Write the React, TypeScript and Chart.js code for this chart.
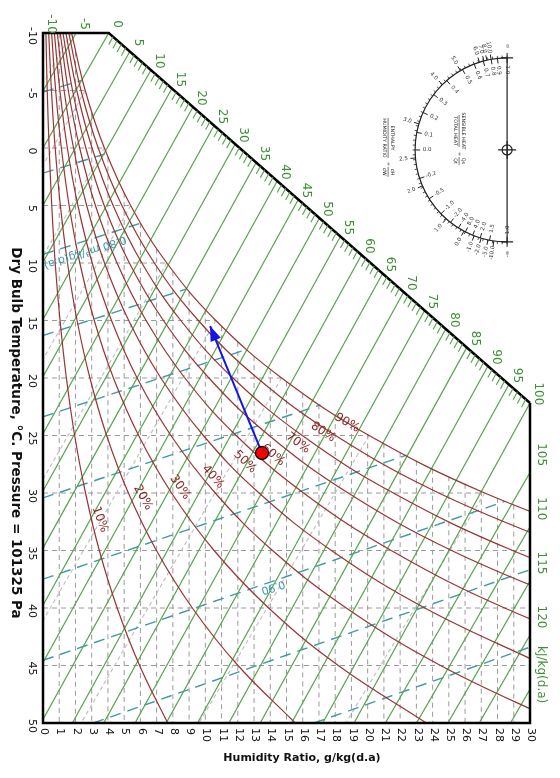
import React, { useEffect, useRef } from 'react';
import { Chart, registerables } from 'chart.js';

Chart.register(...registerables);

// ---------- DATA ----------
// Dry bulb temperatures (°C) at which the relative-humidity curves are tabulated
const TEMPS = [-10, -5, 0, 5, 10, 15, 20, 25, 30, 35, 40, 45, 50];
// Humidity ratio (g/kg) of each RH curve at TEMPS (curves stop once beyond 30 g/kg)
const RH_10 = [0.18, 0.26, 0.38, 0.54, 0.75, 1.05, 1.44, 1.95, 2.62, 3.47, 4.57, 5.95, 7.68];
const RH_20 = [0.35, 0.52, 0.75, 1.07, 1.51, 2.10, 2.89, 3.92, 5.26, 6.99, 9.20, 12.01, 15.54];
const RH_30 = [0.53, 0.78, 1.13, 1.61, 2.27, 3.16, 4.34, 5.89, 7.92, 10.54, 13.90, 18.19, 23.61];
const RH_40 = [0.70, 1.04, 1.50, 2.15, 3.03, 4.22, 5.80, 7.88, 10.61, 14.14, 18.68, 24.49, 31.88];
const RH_50 = [0.88, 1.30, 1.88, 2.69, 3.79, 5.28, 7.26, 9.88, 13.31, 17.77, 23.52, 30.91];
const RH_60 = [1.06, 1.56, 2.26, 3.23, 4.56, 6.35, 8.74, 11.90, 16.05, 21.45, 28.44, 37.47];
const RH_70 = [1.23, 1.82, 2.64, 3.77, 5.32, 7.42, 10.22, 13.93, 18.80, 25.17, 33.44];
const RH_80 = [1.41, 2.08, 3.02, 4.32, 6.09, 8.49, 11.70, 15.97, 21.58, 28.93, 38.51];
const RH_90 = [1.59, 2.34, 3.40, 4.86, 6.86, 9.57, 13.20, 18.02, 24.38, 32.73];
const RH_100 = [1.76, 2.60, 3.78, 5.40, 7.63, 10.65, 14.70, 20.09, 27.21, 36.59];
const RH_CURVES = [RH_10, RH_20, RH_30, RH_40, RH_50, RH_60, RH_70, RH_80, RH_90, RH_100];

const RH_LABELS = ['10%', '20%', '30%', '40%', '50%', '60%', '70%', '80%', '90%'];
const RH_LABEL_W = [3.51, 6.16, 8.44, 10.47, 12.45, 14.17, 15.71, 17.25, 18.73];
const RH_LABEL_T = [32.3, 30.4, 29.5, 28.6, 27.3, 26.7, 25.65, 24.7, 23.9];
const RH_LABEL_ANGLE = [70, 61, 55, 48, 44, 40, 36, 33, 30];

// Enthalpy lines (kJ/kg): start and end points (W g/kg, T °C)
const H_VALUES = [-5, 0, 5, 10, 15, 20, 25, 30, 35, 40, 45, 50, 55, 60, 65, 70, 75, 80, 85, 90, 95, 100, 105, 110, 115, 120, 125];
const H_START_W = [2.04, 4.05, 5.35, 6.65, 7.94, 9.24, 10.54, 11.84, 13.13, 14.43, 15.73, 17.03, 18.32, 19.62, 20.92, 22.22, 23.51, 24.81, 26.11, 27.41, 28.70, 30, 30, 30, 30, 30, 30];
const H_START_T = [-10, -10, -8.39, -6.78, -5.17, -3.57, -1.96, -0.35, 1.26, 2.87, 4.48, 6.09, 7.69, 9.30, 10.91, 12.52, 14.13, 15.74, 17.34, 18.95, 20.56, 22.17, 28.23, 32.94, 37.65, 42.35, 47.06];
const H_END_W = [0, 0, 0, 0, 0, 0, 0, 0, 0, 0, 0, 0, 1.81, 3.74, 5.67, 7.59, 9.52, 11.45, 13.38, 15.31, 17.23, 19.16, 21.09, 23.01, 24.94, 26.87, 28.80];
const H_END_T = [-4.97, 0, 4.97, 9.94, 14.91, 19.88, 24.85, 29.82, 34.79, 39.76, 44.73, 49.70, 50, 50, 50, 50, 50, 50, 50, 50, 50, 50, 50, 50, 50, 50, 50];

// Enthalpy scale (black diagonal) from h = 0 to h = 100
const H_SCALE_FROM = { w: 4.05, t: -10 };
const H_SCALE_TO = { w: 30, t: 22.17 };
const H_SCALE_LABELS = [0, 5, 10, 15, 20, 25, 30, 35, 40, 45, 50, 55, 60, 65, 70, 75, 80, 85, 90, 95, 100];
const H_TOP_LABELS = ['-10', '-5'];
const H_TOP_W = [0, 2.04];
const H_RIGHT_LABELS = ['105', '110', '115', '120'];
const H_RIGHT_T = [28.23, 32.94, 37.65, 42.35];
const H_UNIT = 'kJ/kg(d.a)';

// Specific volume lines (m3/kg)
const V_VALUES = [0.76, 0.78, 0.80, 0.82, 0.84, 0.86, 0.88, 0.90, 0.92, 0.94];
const V_START_W = [0, 0, 0, 0, 0, 0, 0, 0, 3.1, 16.7];
const V_START_T = [-4.87, 2.19, 9.25, 16.31, 23.37, 30.43, 37.49, 44.55, 50, 50];
const V_END_W = [2.43, 3.9, 6.0, 8.85, 12.58, 17.1, 22.4, 28.45, 30, 30];
const V_END_T = [-5.9, 0.48, 6.55, 12.25, 17.5, 22.33, 26.7, 30.73, 36.67, 43.4];
const V_LABELS = ['0.80 m³/kg(d.a)', '0.90'];
const V_LABEL_W = [2.59, 14.17];
const V_LABEL_T = [9.05, 38.17];

// Wet bulb lines (°C)
const WB_VALUES = [-10, -5, 0, 5, 10, 15, 20, 25, 30];
const WB_START_W = [1.76, 2.60, 3.78, 5.40, 7.63, 10.65, 14.70, 20.09, 27.21];
const WB_END_W = [0, 0, 0, 0, 0, 0, 2.35, 9.61, 18.65];
const WB_END_T = [-5.58, 1.5, 9.4, 18.36, 28.8, 41.1, 50, 50, 50];

// Dashed grid under the saturation curve
const GRID_W = [1, 2, 3, 4, 5, 6, 7, 8, 9, 10, 11, 12, 13, 14, 15, 16, 17, 18, 19, 20, 21, 22, 23, 24, 25, 26, 27, 28, 29];
const GRID_W_TOP_T = [-10, -8.37, -3.07, 0.81, 3.91, 6.52, 8.75, 10.71, 12.48, 14.06, 15.5, 16.85, 18.09, 19.23, 20.31, 21.34, 22.31, 23.22, 24.08, 24.9, 25.7, 26.46, 27.19, 27.89, 28.55, 29.2, 29.81, 30.42, 31.01];
const GRID_T = [-5, 0, 5, 10, 15, 20, 25, 30, 35, 40, 45];
const GRID_T_END_W = [2.60, 3.78, 5.40, 7.63, 10.65, 14.70, 20.09, 27.21, 30, 30, 30];

// Axis ticks
const T_TICKS = [-10, -5, 0, 5, 10, 15, 20, 25, 30, 35, 40, 45, 50];
const W_TICKS = [0, 1, 2, 3, 4, 5, 6, 7, 8, 9, 10, 11, 12, 13, 14, 15, 16, 17, 18, 19, 20, 21, 22, 23, 24, 25, 26, 27, 28, 29, 30];

// Process: state point and arrow end
const STATE_POINT = { w: 13.49, t: 26.52 };
const ARROW_END = { w: 10.29, t: 15.48 };

// Protractor
const PROT_CENTER = { w: 28.59, t: 0.17 };
const PROT_OUT_LABELS = ['∞', '10.0', '8.0', '7.0', '6.0', '5.0', '4.0', '3.0', '2.5', '2.0', '1.0', '0.0', '-1.0', '-2.0', '-5.0', '-10.0', '-∞'];
const PROT_OUT_ANGLES = [0, 10, 12.7, 14.6, 17.5, 30.5, 44.7, 73.5, 95, 113, 138.6, 152, 159, 163.6, 168, 171.7, 180];
const PROT_IN_LABELS = ['1.0', '0.9', '0.8', '0.7', '0.6', '0.5', '0.4', '0.3', '0.2', '0.1', '0.0', '-0.2', '-0.5', '-1.0', '-2.0', '-4.0', '8.0', '4.0', '2.0', '1.5', '1.0'];
const PROT_IN_ANGLES = [0, 6, 10, 15, 21, 29, 41, 53, 66, 79, 90, 108, 122, 134, 142, 148, 153, 158, 163, 169, 180];

// ---------- STYLE ----------
const FONT = '"DejaVu Sans", Verdana, sans-serif';
const GREEN = '#55a34c';
const GREEN_TEXT = '#3c8f35';
const RED = '#9a3434';
const RED_TEXT = '#8e2424';
const TEAL = '#3c9aa8';
const GRID = '#9a9a9a';
const WB = '#bdbdbd';

const seg = (w1: number, t1: number, w2: number, t2: number) => [
  { x: w1, y: t1 },
  { x: w2, y: t2 },
];

function rtext(
  ctx: CanvasRenderingContext2D,
  s: string,
  x: number,
  y: number,
  deg: number,
  align: CanvasTextAlign = 'center',
  baseline: CanvasTextBaseline = 'middle'
) {
  ctx.save();
  ctx.translate(x, y);
  ctx.rotate((deg * Math.PI) / 180);
  ctx.textAlign = align;
  ctx.textBaseline = baseline;
  ctx.fillText(s, 0, 0);
  ctx.restore();
}

const overlayPlugin = {
  id: 'psychroOverlay',
  afterDatasetsDraw(chart: any) {
    const ctx: CanvasRenderingContext2D = chart.ctx;
    const xs = chart.scales.x;
    const ys = chart.scales.y;
    const px = (w: number) => xs.getPixelForValue(w);
    const py = (t: number) => ys.getPixelForValue(t);

    ctx.save();

    // ---- borders ----
    ctx.strokeStyle = '#000';
    ctx.lineWidth = 2.5;
    ctx.lineJoin = 'miter';
    ctx.beginPath();
    ctx.moveTo(px(H_SCALE_TO.w), py(H_SCALE_TO.t));
    ctx.lineTo(px(30), py(50));
    ctx.lineTo(px(0), py(50));
    ctx.lineTo(px(0), py(-10));
    ctx.lineTo(px(H_SCALE_FROM.w), py(H_SCALE_FROM.t));
    ctx.lineTo(px(H_SCALE_TO.w), py(H_SCALE_TO.t));
    ctx.stroke();

    // ---- enthalpy scale ticks ----
    const sx1 = px(H_SCALE_FROM.w), sy1 = py(H_SCALE_FROM.t);
    const sx2 = px(H_SCALE_TO.w), sy2 = py(H_SCALE_TO.t);
    const len = Math.hypot(sx2 - sx1, sy2 - sy1);
    const dx = (sx2 - sx1) / len, dy = (sy2 - sy1) / len;
    const perpX = dy, perpY = -dx;
    ctx.strokeStyle = GREEN;
    ctx.lineWidth = 1.1;
    for (let i = 1; i < 100; i++) {
      if (i % 5 === 0) continue;
      const x0 = sx1 + ((sx2 - sx1) * i) / 100;
      const y0 = sy1 + ((sy2 - sy1) * i) / 100;
      ctx.beginPath();
      ctx.moveTo(x0, y0);
      ctx.lineTo(x0 - 0.47 * 9, y0 + 0.88 * 9);
      ctx.stroke();
    }

    // ---- enthalpy labels ----
    ctx.fillStyle = GREEN_TEXT;
    ctx.font = `12px ${FONT}`;
    H_SCALE_LABELS.forEach((h) => {
      const x0 = sx1 + ((sx2 - sx1) * h) / 100 + perpX * 12;
      const y0 = sy1 + ((sy2 - sy1) * h) / 100 + perpY * 12;
      rtext(ctx, String(h), x0, y0, 90);
    });
    H_TOP_LABELS.forEach((s, i) => {
      rtext(ctx, s, px(H_TOP_W[i]) + perpX * 12, py(-10) + perpY * 12, 90);
    });
    H_RIGHT_LABELS.forEach((s, i) => {
      rtext(ctx, s, px(30) + 11, py(H_RIGHT_T[i]) - 18, 90);
    });
    rtext(ctx, H_UNIT, px(30) + 11, 646, 90, 'left');

    // ---- RH labels ----
    ctx.fillStyle = RED_TEXT;
    ctx.font = `12px ${FONT}`;
    RH_LABELS.forEach((s, i) => {
      rtext(ctx, s, px(RH_LABEL_W[i]), py(RH_LABEL_T[i]), RH_LABEL_ANGLE[i]);
    });

    // ---- volume labels ----
    ctx.fillStyle = TEAL;
    ctx.font = `11px ${FONT}`;
    V_LABELS.forEach((s, i) => {
      rtext(ctx, s, px(V_LABEL_W[i]), py(V_LABEL_T[i]), 162);
    });

    // ---- axes tick labels ----
    ctx.fillStyle = '#111';
    ctx.font = `11px ${FONT}`;
    T_TICKS.forEach((t) => rtext(ctx, String(t), 32, py(t) + 3, 90));
    W_TICKS.forEach((w) => rtext(ctx, String(w), px(w) + 1, py(50) + 5, 90, 'left'));

    // ---- titles ----
    ctx.font = `bold 13.5px ${FONT}`;
    rtext(ctx, 'Dry Bulb Temperature, °C. Pressure = 101325 Pa', 15, 433, 90);
    ctx.font = `bold 11px ${FONT}`;
    ctx.textAlign = 'center';
    ctx.textBaseline = 'middle';
    ctx.fillText('Humidity Ratio, g/kg(d.a)', 302, 758);

    // ---- arrow head ----
    const ax1 = px(STATE_POINT.w), ay1 = py(STATE_POINT.t);
    const ax2 = px(ARROW_END.w), ay2 = py(ARROW_END.t);
    const al = Math.hypot(ax2 - ax1, ay2 - ay1);
    const ux = (ax2 - ax1) / al, uy = (ay2 - ay1) / al;
    ctx.fillStyle = '#1414e6';
    ctx.beginPath();
    ctx.moveTo(ax2, ay2);
    ctx.lineTo(ax2 - ux * 15 - uy * 5.5, ay2 - uy * 15 + ux * 5.5);
    ctx.lineTo(ax2 - ux * 15 + uy * 5.5, ay2 - uy * 15 - ux * 5.5);
    ctx.closePath();
    ctx.fill();

    // ---- protractor ----
    const cx = px(PROT_CENTER.w), cy = py(PROT_CENTER.t);
    const R = 92;
    const pt = (deg: number, r: number) => {
      const a = (deg * Math.PI) / 180;
      return [cx - r * Math.sin(a), cy - r * Math.cos(a)];
    };
    ctx.strokeStyle = '#222';
    ctx.lineWidth = 1.2;
    ctx.beginPath();
    ctx.arc(cx, cy, R, -Math.PI / 2, Math.PI / 2, true);
    ctx.stroke();
    ctx.beginPath();
    ctx.moveTo(cx, cy - R);
    ctx.lineTo(cx, cy + R);
    ctx.moveTo(cx - 6, cy - R);
    ctx.lineTo(cx + 6, cy - R);
    ctx.moveTo(cx - 6, cy + R);
    ctx.lineTo(cx + 6, cy + R);
    ctx.stroke();
    ctx.beginPath();
    ctx.arc(cx, cy, 5, 0, Math.PI * 2);
    ctx.moveTo(cx - 9, cy);
    ctx.lineTo(cx + 9, cy);
    ctx.moveTo(cx, cy - 9);
    ctx.lineTo(cx, cy + 9);
    ctx.stroke();
    ctx.lineWidth = 0.8;
    for (let d = 0; d <= 180; d += 3) {
      const [x1, y1] = pt(d, R);
      const [x2, y2] = pt(d, R + 2.5);
      ctx.beginPath();
      ctx.moveTo(x1, y1);
      ctx.lineTo(x2, y2);
      ctx.stroke();
    }
    ctx.lineWidth = 1;
    PROT_OUT_ANGLES.forEach((d) => {
      const [x1, y1] = pt(d, R);
      const [x2, y2] = pt(d, R + 5);
      ctx.beginPath();
      ctx.moveTo(x1, y1);
      ctx.lineTo(x2, y2);
      ctx.stroke();
    });
    PROT_IN_ANGLES.forEach((d) => {
      const [x1, y1] = pt(d, R);
      const [x2, y2] = pt(d, R - 5);
      ctx.beginPath();
      ctx.moveTo(x1, y1);
      ctx.lineTo(x2, y2);
      ctx.stroke();
    });
    ctx.fillStyle = '#333';
    ctx.font = `5.5px ${FONT}`;
    PROT_OUT_LABELS.forEach((s, i) => {
      const [x, y] = pt(PROT_OUT_ANGLES[i], R + 12);
      rtext(ctx, s, x, y, 90 - PROT_OUT_ANGLES[i]);
    });
    PROT_IN_LABELS.forEach((s, i) => {
      const [x, y] = pt(PROT_IN_ANGLES[i], R - 12);
      rtext(ctx, s, x, y, 90 - PROT_IN_ANGLES[i]);
    });

    // protractor captions (rotated frame: text x -> screen down, text up -> screen right)
    ctx.save();
    ctx.translate(cx, cy);
    ctx.rotate(Math.PI / 2);
    ctx.font = `4.8px ${FONT}`;
    ctx.fillStyle = '#222';
    ctx.textAlign = 'center';
    ctx.textBaseline = 'middle';
    ctx.fillText('SENSIBLE HEAT', -19, 44);
    ctx.fillText('TOTAL HEAT', -19, 52);
    ctx.strokeStyle = '#222';
    ctx.lineWidth = 0.6;
    ctx.beginPath();
    ctx.moveTo(-35, 48);
    ctx.lineTo(-3, 48);
    ctx.stroke();
    ctx.fillText('=', 4, 48);
    ctx.fillText('Qs', 11, 44);
    ctx.fillText('Qt', 11, 52);
    ctx.beginPath();
    ctx.moveTo(7, 48);
    ctx.lineTo(15, 48);
    ctx.stroke();
    ctx.fillText('ENTHALPY', -12, 115);
    ctx.fillText('HUMIDITY RATIO', -12, 123);
    ctx.beginPath();
    ctx.moveTo(-32, 119);
    ctx.lineTo(8, 119);
    ctx.stroke();
    ctx.fillText('=', 14, 119);
    ctx.fillText('dH', 22, 115);
    ctx.fillText('dW', 22, 123);
    ctx.beginPath();
    ctx.moveTo(17, 119);
    ctx.lineTo(27, 119);
    ctx.stroke();
    ctx.restore();

    ctx.restore();
  },
};

export default function App() {
  const ref = useRef<HTMLCanvasElement>(null);

  useEffect(() => {
    const canvas = ref.current;
    if (!canvas) return;
    const datasets: any[] = [];

    // dashed grid
    GRID_W.forEach((w, i) => {
      datasets.push({
        data: seg(w, GRID_W_TOP_T[i], w, 50),
        borderColor: GRID, borderWidth: 1, borderDash: [5, 4], order: 8,
      });
    });
    GRID_T.forEach((t, i) => {
      datasets.push({
        data: seg(0, t, GRID_T_END_W[i], t),
        borderColor: GRID, borderWidth: 1, borderDash: [5, 4], order: 8,
      });
    });
    // wet bulb lines
    WB_VALUES.forEach((t, i) => {
      datasets.push({
        data: seg(WB_START_W[i], t, WB_END_W[i], WB_END_T[i]),
        borderColor: WB, borderWidth: 1.1, borderDash: [4, 3], order: 7,
      });
    });
    // specific volume lines
    V_VALUES.forEach((v, i) => {
      datasets.push({
        data: seg(V_START_W[i], V_START_T[i], V_END_W[i], V_END_T[i]),
        borderColor: TEAL, borderWidth: 1.4, borderDash: [11, 7], order: 6,
      });
    });
    // enthalpy lines
    H_VALUES.forEach((h, i) => {
      datasets.push({
        data: seg(H_START_W[i], H_START_T[i], H_END_W[i], H_END_T[i]),
        borderColor: GREEN, borderWidth: 1.2, order: 5,
      });
    });
    // relative humidity curves
    RH_CURVES.forEach((curve) => {
      datasets.push({
        data: curve.map((w, k) => ({ x: w, y: TEMPS[k] })),
        borderColor: RED, borderWidth: 1.2, tension: 0.4, order: 4,
      });
    });
    // process arrow
    datasets.push({
      data: seg(STATE_POINT.w, STATE_POINT.t, ARROW_END.w, ARROW_END.t),
      borderColor: '#1414e6', borderWidth: 2, order: 2,
    });
    // state point
    datasets.push({
      data: [{ x: STATE_POINT.w, y: STATE_POINT.t }],
      showLine: false, pointRadius: 6.5, pointBackgroundColor: '#ff0000',
      pointBorderColor: '#000', pointBorderWidth: 1.3, order: 1,
    });

    datasets.forEach((d) => {
      if (d.showLine === undefined) d.showLine = true;
      if (d.pointRadius === undefined) d.pointRadius = 0;
      d.pointHoverRadius = 0;
      d.fill = false;
    });

    const chart = new Chart(canvas, {
      type: 'scatter',
      data: { datasets },
      options: {
        responsive: false,
        animation: false,
        devicePixelRatio: 1,
        events: [],
        layout: { padding: { left: 43, top: 33, right: 30, bottom: 55 } },
        plugins: { legend: { display: false }, tooltip: { enabled: false } },
        scales: {
          x: { type: 'linear', min: 0, max: 30, display: false },
          y: { type: 'linear', min: -10, max: 50, reverse: true, display: false },
        },
      },
      plugins: [overlayPlugin],
    });
    return () => chart.destroy();
  }, []);

  return (
    <div style={{ position: 'absolute', left: 0, top: 0, width: 560, height: 778, background: '#fff' }}>
      <canvas ref={ref} width={560} height={778} style={{ width: 560, height: 778, display: 'block' }} />
    </div>
  );
}
